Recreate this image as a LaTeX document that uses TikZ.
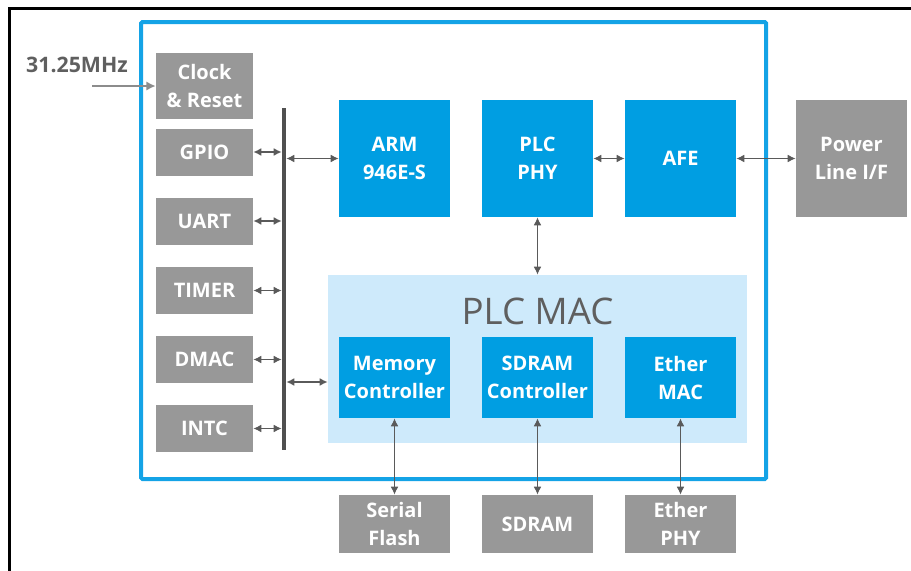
\documentclass[tikz,border=0pt]{standalone}
\usepackage{fontspec}
\setmainfont{Open Sans}
\usetikzlibrary{arrows.meta}
\definecolor{bluefill}{RGB}{0,158,226}
\definecolor{blueframe}{RGB}{20,163,230}
\definecolor{lightblue}{RGB}{206,234,251}
\definecolor{grayfill}{RGB}{152,152,152}
\definecolor{arrowgray}{RGB}{90,90,90}
\definecolor{busgray}{RGB}{80,80,80}
\definecolor{txtgray}{RGB}{95,95,95}
\definecolor{clkgray}{RGB}{140,140,140}
\tikzset{
  bx/.style={rectangle, inner sep=0pt, align=center, text=white,
    font=\fontsize{15}{21}\selectfont\bfseries},
  graybox/.style={bx, fill=grayfill},
  bluebox/.style={bx, fill=bluefill},
  dbl/.style={arrowgray, line width=1.3pt, {Latex[length=6pt,width=6pt]}-{Latex[length=6pt,width=6pt]}},
}
\begin{document}
\begin{tikzpicture}[x=0.75pt,y=-0.75pt]
\useasboundingbox (0,0) rectangle (911,571);
% outer black frame (cropped)
\draw[line width=2pt] (9.7,575) -- (9.7,8.7) -- (915,8.7);
% blue chip frame
\draw[blueframe, line width=3pt, rounded corners=1pt] (141,22) rectangle (766,479);
% PLC MAC region
\node[fill=lightblue, inner sep=0pt, minimum width=419*0.75pt, minimum height=168*0.75pt] (mac) at (537.5,359) {};
\node[text=txtgray, font=\fontsize{27.5}{30}\selectfont, anchor=center] (mactxt) at (537.5,311) {PLC MAC};
% left gray boxes
\node[graybox, minimum width=97*0.75pt, minimum height=66*0.75pt] (clk) at (204.5,86) {Clock\\\& Reset};
\node[graybox, minimum width=97*0.75pt, minimum height=47*0.75pt] (gpio) at (204.5,152) {GPIO};
\node[graybox, minimum width=97*0.75pt, minimum height=47*0.75pt] (uart) at (204.5,221) {UART};
\node[graybox, minimum width=97*0.75pt, minimum height=47*0.75pt] (timer) at (204.5,290.5) {TIMER};
\node[graybox, minimum width=97*0.75pt, minimum height=47*0.75pt] (dmac) at (204.5,359.5) {DMAC};
\node[graybox, minimum width=97*0.75pt, minimum height=47*0.75pt] (intc) at (204.5,428.5) {INTC};
% bus
\node[fill=busgray, inner sep=0pt, minimum width=4*0.75pt, minimum height=342*0.75pt] (bus) at (284,279) {};
% top blue boxes
\node[bluebox, minimum width=111*0.75pt, minimum height=117*0.75pt] (arm) at (394.5,158.5) {ARM\\946E-S};
\node[bluebox, minimum width=111*0.75pt, minimum height=117*0.75pt] (phy) at (537.5,158.5) {PLC\\PHY};
\node[bluebox, minimum width=111*0.75pt, minimum height=117*0.75pt] (afe) at (680.5,158.5) {AFE};
\node[graybox, minimum width=111*0.75pt, minimum height=117*0.75pt] (pwr) at (851.5,158.5) {Power\\Line I/F};
% MAC inner boxes
\node[bluebox, minimum width=111*0.75pt, minimum height=81*0.75pt] (memc) at (394.5,377.5) {Memory\\Controller};
\node[bluebox, minimum width=111*0.75pt, minimum height=81*0.75pt] (sdc) at (537.5,377.5) {SDRAM\\Controller};
\node[bluebox, minimum width=111*0.75pt, minimum height=81*0.75pt] (emac) at (680.5,377.5) {Ether\\MAC};
% bottom gray boxes
\node[graybox, minimum width=111*0.75pt, minimum height=58*0.75pt] (sflash) at (394.5,524) {Serial\\Flash};
\node[graybox, minimum width=111*0.75pt, minimum height=58*0.75pt] (sdram) at (537.5,524) {SDRAM};
\node[graybox, minimum width=111*0.75pt, minimum height=58*0.75pt] (ephy) at (680.5,524) {Ether\\PHY};
% clock input
\node[text=txtgray, font=\fontsize{16}{18}\selectfont\bfseries] (freq) at (77,65) {31.25MHz};
\coordinate (clkin) at (92,86);
\draw[clkgray, line width=1.8pt, -{Latex[length=7pt,width=7pt]}] (clkin) -- (clk.west);
% peripheral arrows
\foreach \b in {gpio,uart,timer,dmac,intc}
  \draw[dbl] (\b.east) -- (bus.west |- \b.east);
\draw[dbl] (bus.east |- arm.west) -- (arm.west);
\coordinate (busmac) at (284,382);
\draw[dbl] (bus.east |- busmac) -- (mac.west |- busmac);
% top row arrows
\draw[dbl] (phy.east) -- (afe.west);
\draw[dbl] (afe.east) -- (pwr.west);
\draw[dbl] (phy.south) -- (phy.south |- mac.north);
% bottom arrows
\draw[dbl] (memc.south) -- (sflash.north);
\draw[dbl] (sdc.south) -- (sdram.north);
\draw[dbl] (emac.south) -- (ephy.north);
\end{tikzpicture}
\end{document}
